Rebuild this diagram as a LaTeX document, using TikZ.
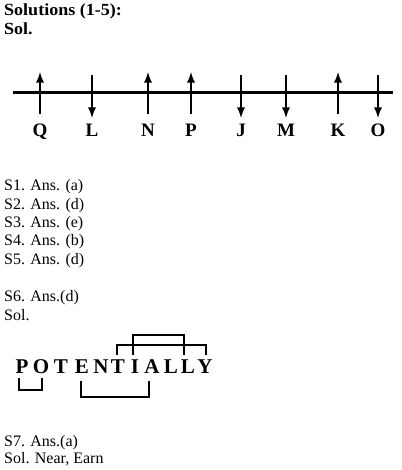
\documentclass[tikz,border=0pt]{standalone}
\usepackage{fontspec}
\setmainfont{Liberation Serif}
\newfontfamily\headfont[FakeStretch=1.06]{Liberation Serif}
\tikzset{
  txt/.style={anchor=base west,inner sep=0pt,font=\fontsize{16bp}{19bp}\selectfont},
  head/.style={txt,font=\fontsize{17bp}{20bp}\headfont\bfseries},
  lbl/.style={anchor=base,inner sep=0pt,font=\fontsize{19bp}{22bp}\selectfont\bfseries},
  let/.style={anchor=base,inner sep=0pt,font=\fontsize{21bp}{24bp}\selectfont\bfseries},
  bracket/.style={line width=2.4bp,line cap=butt},
}
\begin{document}
\begin{tikzpicture}[>=latex,line join=miter,]
\useasboundingbox (0bp,0bp) rectangle (402bp,470bp);
%%
\node (head_0) at (4bp,454bp) [head] {Solutions (1-5):};
  \node (head_1) at (4bp,435bp) [head] {Sol.};
%
\draw [line width=3bp] (13bp,377bp) -- (393bp,377bp);
\node (node_Q) at (40bp,333bp) [lbl] {Q};
  \node (node_L) at (92bp,333bp) [lbl] {L};
  \node (node_N) at (148bp,333bp) [lbl] {N};
  \node (node_P) at (191bp,333bp) [lbl] {P};
  \node (node_J) at (241bp,333bp) [lbl] {J};
  \node (node_M) at (286bp,333bp) [lbl] {M};
  \node (node_K) at (338bp,333bp) [lbl] {K};
  \node (node_O) at (378bp,333bp) [lbl] {O};
  \draw [black,line width=2.6bp,->] (node_Q |- 0bp,356bp) -- (node_Q |- 0bp,398bp);
  \draw [black,line width=2.6bp,->] (node_L |- 0bp,395bp) -- (node_L |- 0bp,352bp);
  \draw [black,line width=2.6bp,->] (node_N |- 0bp,356bp) -- (node_N |- 0bp,398bp);
  \draw [black,line width=2.6bp,->] (node_P |- 0bp,356bp) -- (node_P |- 0bp,398bp);
  \draw [black,line width=2.6bp,->] (node_J |- 0bp,395bp) -- (node_J |- 0bp,352bp);
  \draw [black,line width=2.6bp,->] (node_M |- 0bp,395bp) -- (node_M |- 0bp,352bp);
  \draw [black,line width=2.6bp,->] (node_K |- 0bp,356bp) -- (node_K |- 0bp,398bp);
  \draw [black,line width=2.6bp,->] (node_O |- 0bp,395bp) -- (node_O |- 0bp,352bp);
%
\node (ans_1) at (4bp,279bp) [txt] {S1. Ans. (a)};
  \node (ans_2) at (4bp,260bp) [txt] {S2. Ans. (d)};
  \node (ans_3) at (4bp,242bp) [txt] {S3. Ans. (e)};
  \node (ans_4) at (4bp,224bp) [txt] {S4. Ans. (b)};
  \node (ans_5) at (4bp,205bp) [txt] {S5. Ans. (d)};
  \node (ans_6) at (4bp,168bp) [txt] {S6. Ans.(d)};
  \node (sol_6) at (4bp,149bp) [txt] {Sol.};
%
\node (let_P) at (22bp,96bp) [let] {P};
  \node (let_O) at (41bp,96bp) [let] {O};
  \node (let_T1) at (61bp,96bp) [let] {T};
  \node (let_E) at (82bp,96bp) [let] {E};
  \node (let_N) at (101bp,96bp) [let] {N};
  \node (let_T2) at (118bp,96bp) [let] {T};
  \node (let_I) at (135bp,96bp) [let] {I};
  \node (let_A) at (152bp,96bp) [let] {A};
  \node (let_L1) at (171bp,96bp) [let] {L};
  \node (let_L2) at (188bp,96bp) [let] {L};
  \node (let_Y) at (205bp,96bp) [let] {Y};
  \draw [bracket] (117bp,115bp) |- (206bp,125bp) -- (206bp,115bp);
  \draw [bracket] (133bp,115bp) |- (184bp,135bp) -- (184bp,115bp);
  \draw [bracket] (19bp,92bp) |- (42bp,80bp) -- (42bp,92bp);
  \draw [bracket] (81bp,89bp) |- (149bp,73bp) -- (149bp,89bp);
%
\node (ans_7) at (4bp,24bp) [txt] {S7. Ans.(a)};
  \node (sol_7) at (4bp,7bp) [txt] {Sol. Near, Earn};
%
\end{tikzpicture}
\end{document}
